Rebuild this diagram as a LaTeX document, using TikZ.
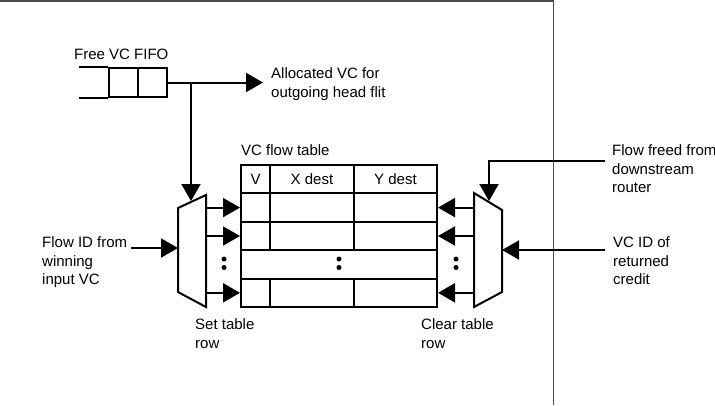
\documentclass[tikz,border=0pt]{standalone}
\usepackage{fontspec}
\setmainfont{Liberation Sans}
\usetikzlibrary{arrows.meta}
\tikzset{
  cell/.style={draw,line width=2pt,inner sep=0pt,minimum height=28.4pt},
  mux/.style={draw,line width=2pt,line join=miter},
  flow/.style={draw,line width=2pt,-{Triangle[length=17pt,width=19pt]}},
  note/.style={align=left,anchor=base west,inner sep=0pt},
  dot/.style={circle,fill,inner sep=0pt,minimum size=5pt},
  frame/.style={draw=black!70,line width=1.2pt}
}

\begin{document}
\begin{tikzpicture}[
  x=1pt, y=-1pt,
  font=\fontsize{15}{18.5}\selectfont
]
  \useasboundingbox (0,0) rectangle (715,405);
  \draw[frame] (0,1) -- (553.5,1) -- (553.5,405);

  % free VC FIFO
  \node[cell,minimum width=29pt,minimum height=29pt] (q2) at (123.5,82.5) {};
  \node[cell,minimum width=29pt,minimum height=29pt] (q3) at (152.5,82.5) {};
  \draw[line width=2pt] (q2.north west) -- ++(-29,0)
    (q2.south west) -- ++(-29,0);
  \node[note] (fifolbl) at (74,59.4) {Free VC FIFO};

  % VC flow table
  \node[cell,minimum width=29pt] (v0) at (255.5,179.2) {V};
  \node[cell,minimum width=84pt] (x0) at (312,179.2) {X dest};
  \node[cell,minimum width=83pt] (y0) at (395.5,179.2) {Y dest};
  \foreach \row/\yy in {1/207.6,2/236,4/292.8} {
    \node[cell,minimum width=29pt] (v\row) at (255.5,\yy) {};
    \node[cell,minimum width=84pt] (x\row) at (312,\yy) {};
    \node[cell,minimum width=83pt] (y\row) at (395.5,\yy) {};
  }
  \node[cell,minimum width=196pt] (gap) at (339,264.4) {};
  \node[note] (tablelbl) at (241,155.5) {VC flow table};

  % set and clear muxes
  \draw[mux] (178,208) -- (206,195) -- (206,307) -- (178,292) -- cycle;
  \draw[mux] (474,193) -- (502,210) -- (502,292) -- (474,307) -- cycle;
  \coordinate (setin) at (178,248);
  \coordinate (setout) at (206,248);
  \coordinate (settop) at (191,201);
  \coordinate (clrin) at (502,250);
  \coordinate (clrout) at (474,250);
  \coordinate (clrtop) at (489,201);
  \foreach \row in {1,2,4} {
    \draw[flow] (setout |- v\row) -- (v\row.west);
    \draw[flow] (clrout |- y\row) -- (y\row.east);
  }
  \foreach \side/\xx in {l/224,m/339,r/456} {
    \node[dot] (\side a) at (\xx,259) {};
    \node[dot] (\side b) at (\xx,267.5) {};
  }
  \node[note] (setlbl) at (195,348) {Set table\\row};
  \node[note] (clrlbl) at (421,348) {Clear table\\row};

  % inputs and outputs
  \coordinate (split) at (191,82.5);
  \coordinate (alloc) at (263,82.5);
  \coordinate (flowid) at (131,248);
  \coordinate (freed) at (605,161);
  \coordinate (credit) at (605,250);
  \draw[flow] (q3.east) -- (alloc);
  \draw[flow] (split) -- (settop);
  \draw[flow] (flowid) -- (setin);
  \draw[flow] (freed) -| (clrtop);
  \draw[flow] (credit) -- (clrin);
  \node[note] (alloclbl) at (271,97) {Allocated VC for\\outgoing head flit};
  \node[note] (flowidlbl) at (42,284.5) {Flow ID from\\winning\\input VC};
  \node[note] (freedlbl) at (612,192.5) {Flow freed from\\downstream\\router};
  \node[note] (creditlbl) at (613,284.5) {VC ID of\\returned\\credit};
\end{tikzpicture}
\end{document}
